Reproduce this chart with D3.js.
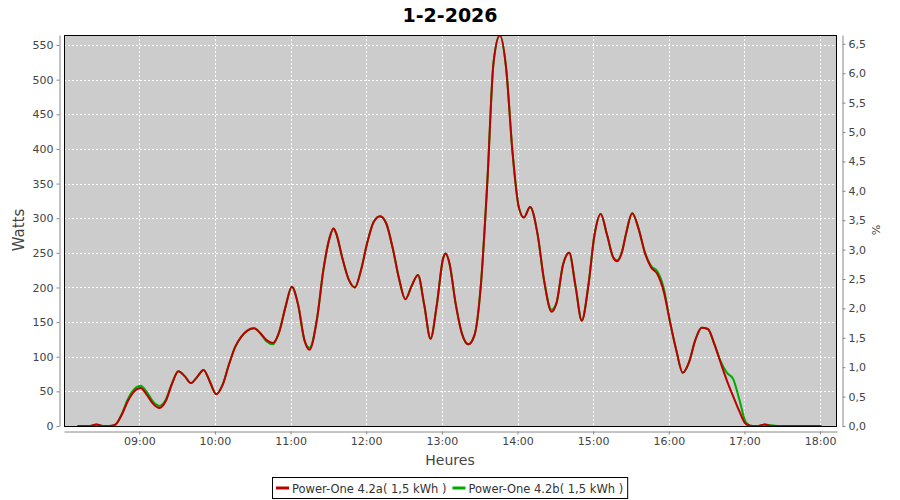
<!DOCTYPE html>
<html><head><meta charset="utf-8">
<script src="https://cdn.jsdelivr.net/npm/d3@7"></script>
<style>body{margin:0;background:#fff}svg{display:block}</style>
</head><body><svg id="c" width="900" height="500"></svg>
<script>
const chartTitle = "1-2-2026";
const times = ["08:11","08:16","08:21","08:26","08:31","08:36","08:41","08:46","08:51","08:56",
"09:01","09:06","09:11","09:16","09:21","09:26","09:31","09:36","09:41","09:46","09:51","09:56",
"10:01","10:06","10:11","10:16","10:21","10:26","10:31","10:36","10:41","10:46","10:51","10:56",
"11:01","11:06","11:11","11:15","11:21","11:26","11:31","11:34","11:36","11:41","11:46","11:51","11:56",
"12:01","12:06","12:11","12:16","12:21","12:26","12:31","12:36","12:41","12:46","12:51","12:56",
"13:01","13:03","13:06","13:11","13:16","13:21","13:26","13:31","13:36","13:41","13:46","13:51","13:56",
"14:01","14:05","14:10","14:16","14:21","14:27","14:31","14:36","14:41","14:46","14:51","14:56",
"15:01","15:06","15:11","15:16","15:19","15:23","15:26","15:31","15:36","15:41","15:46","15:51","15:56",
"16:01","16:06","16:11","16:16","16:21","16:26","16:31","16:36","16:41","16:46","16:51","16:56",
"17:01","17:06","17:11","17:16","17:21","17:26","17:31","17:36","17:41","17:46","17:51","17:56","18:01"];
const powerA = [0,0,0,2,0,0,2,16,36,50,
55,45,32,26,36,61,79,72,62,71,81,64,
46,59,88,114,129,138,141,134,124,120,136,172,
201,175,124,110,155,225,272,285,279,243,212,200,226,
266,295,303,292,257,213,183,202,218,175,126,175,
242,249,235,176,133,118,132,205,350,525,564,516,396,
316,301,316,276,211,165,178,232,250,202,152,200,
275,306,276,243,238,252,277,307,285,250,229,219,194,
150,109,77,92,124,142,140,119,92,66,43,21,
3,0,0,2,0,0,0,0,0,0,0,0,0];
const powerB = [0,0,0,2,0,0,2,17,39,53,
58,49,35,29,38,62,79,72,62,71,81,64,
46,59,88,114,129,138,141,134,122,118,136,172,
201,175,124,113,155,225,272,285,279,243,212,200,226,
266,295,303,292,257,213,183,202,218,175,126,175,
242,249,235,176,133,118,132,205,350,525,564,516,396,
316,301,316,276,211,168,178,232,250,202,152,200,
275,306,276,243,239,253,277,307,285,251,231,223,199,
150,109,77,92,124,142,140,119,94,77,68,38,
6,0,0,2,1,0,0,0,0,0,0,0,0];
const hourTicks = ["09:00","10:00","11:00","12:00","13:00","14:00","15:00","16:00","17:00","18:00"];
const wattTicks = [0,50,100,150,200,250,300,350,400,450,500,550];
const pctTicks = [0,0.5,1,1.5,2,2.5,3,3.5,4,4.5,5,5.5,6,6.5];
const seriesNames = ["Power-One 4.2a( 1,5 kWh )","Power-One 4.2b( 1,5 kWh )"];
const seriesColors = ["#bb0000","#00aa00"];
const axisTitles = {y:"Watts", x:"Heures", y2:"%"};

const toMin = s => { const [h,m] = s.split(":").map(Number); return h*60+m; };
const svg = d3.select("#c");
const L=64, T=35, R=837, B=426;
const FONT = "DejaVu Sans, sans-serif";

const x = d3.scaleLinear().domain([480.3, 1093.4]).range([L, R]);
const y = d3.scaleLinear().domain([0, 564.5]).range([B, T]);
const y2 = d3.scaleLinear().domain([0, 6.65]).range([B, T]);

svg.append("rect").attr("x",L).attr("y",T).attr("width",R-L).attr("height",B-T).attr("fill","#cccccc");

const g = svg.append("g");
g.selectAll(".hg").data(wattTicks.filter(d=>d>0)).enter().append("line")
 .attr("x1",L).attr("x2",R).attr("y1",d=>Math.round(y(d))+0.5).attr("y2",d=>Math.round(y(d))+0.5)
 .attr("stroke","#fff").attr("stroke-dasharray","2,2");
g.selectAll(".vg").data(hourTicks).enter().append("line")
 .attr("y1",T).attr("y2",B).attr("x1",d=>Math.round(x(toMin(d)))+0.5).attr("x2",d=>Math.round(x(toMin(d)))+0.5)
 .attr("stroke","#fff").attr("stroke-dasharray","2,2");

svg.append("clipPath").attr("id","clip").append("rect").attr("x",L).attr("y",T).attr("width",R-L).attr("height",B-T);
const line = vals => d3.line().x((d,i)=>x(toMin(times[i]))).y(d=>y(d)).curve(d3.curveMonotoneX)(vals);
const lg = svg.append("g").attr("clip-path","url(#clip)");
lg.append("path").attr("d",line(powerB)).attr("fill","none").attr("stroke",seriesColors[1]).attr("stroke-width",2);
lg.append("path").attr("d",line(powerA)).attr("fill","none").attr("stroke",seriesColors[0]).attr("stroke-width",2);

svg.append("rect").attr("x",L+0.5).attr("y",T+0.5).attr("width",R-L-1).attr("height",B-T).attr("fill","none").attr("stroke","#000");

function styleAxis(sel){
  sel.selectAll(".domain").attr("stroke","#888");
  sel.selectAll(".tick line").attr("stroke","#888");
  sel.selectAll("text").attr("fill","#444").style("font-family",FONT).style("font-size","11px");
}
const ax = svg.append("g").attr("transform",`translate(0,${B+5.5})`)
 .call(d3.axisBottom(x).tickValues(hourTicks.map(toMin)).tickFormat((d,i)=>hourTicks[i]).tickSize(3).tickSizeOuter(0));
styleAxis(ax);
const ayl = svg.append("g").attr("transform",`translate(${L-4.5},0)`)
 .call(d3.axisLeft(y).tickValues(wattTicks).tickSize(3).tickSizeOuter(0));
styleAxis(ayl);
const ayr = svg.append("g").attr("transform",`translate(${R+5.5},0)`)
 .call(d3.axisRight(y2).tickValues(pctTicks).tickFormat(d=>d.toFixed(1).replace(".",",")).tickSize(3).tickSizeOuter(0));
styleAxis(ayr);

svg.append("text").attr("x",450).attr("y",22).attr("text-anchor","middle")
 .style("font-family",FONT).style("font-weight","bold").style("font-size","19px").attr("fill","#000").text(chartTitle);
svg.append("text").attr("transform","translate(24,230) rotate(-90)").attr("text-anchor","middle")
 .style("font-family",FONT).style("font-size","15px").attr("fill","#444").text(axisTitles.y);
svg.append("text").attr("x",450).attr("y",465).attr("text-anchor","middle")
 .style("font-family",FONT).style("font-size","14px").attr("fill","#444").text(axisTitles.x);
svg.append("text").attr("transform","translate(872,230) rotate(90)").attr("text-anchor","middle")
 .style("font-family",FONT).style("font-size","11px").attr("fill","#444").text(axisTitles.y2);

const leg = svg.append("g");
let cx = 0;
seriesNames.forEach((n,i)=>{
  const it = leg.append("g");
  it.append("line").attr("x1",cx+4).attr("x2",cx+17).attr("y1",0).attr("y2",0).attr("stroke",seriesColors[i]).attr("stroke-width",3);
  const t = it.append("text").attr("x",cx+20).attr("y",4.5).style("font-family",FONT).style("font-size","11.5px").attr("fill","#333").text(n);
  cx += 20 + t.node().getComputedTextLength() + 2;
});
const lw = cx + 2, lx = Math.round(450 - lw/2);
leg.attr("transform",`translate(${lx},488)`);
leg.insert("rect",":first-child").attr("x",0.5).attr("y",-10.5).attr("width",lw).attr("height",21).attr("fill","#fff").attr("stroke","#000");
</script></body></html>
